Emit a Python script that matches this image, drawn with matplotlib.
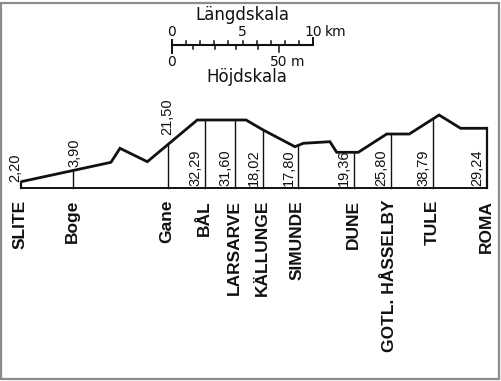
import matplotlib
matplotlib.use("Agg")
import matplotlib.pyplot as plt
import matplotlib.patches as mpatches
import numpy as np

# ---------------- data ----------------
station_names = ["SLITE", "Boge", "Gane", "BÅL", "LARSARVE", "KÄLLUNGE",
                 "SIMUNDE", "DUNE", "GOTL. HÅSSELBY", "TULE", "ROMA"]
station_km = [0.0, 3.71, 10.40, 13.05, 15.18, 17.18, 19.67, 23.62, 26.22, 29.24, 33.07]
station_heights = ["2,20", "3,90", "21,50", "32,29", "31,60", "18,02",
                   "17,80", "19,36", "25,80", "38,79", "29,24"]

profile_km = [0.0, 6.38, 7.02, 8.96, 12.50, 15.96, 17.18, 19.43, 20.02, 21.91,
              22.39, 23.92, 25.94, 27.54, 29.65, 31.18, 33.07]
profile_m = [2.94, 12.0, 18.55, 12.29, 31.78, 31.78, 27.10, 19.30, 20.89, 21.64,
             16.68, 16.68, 25.23, 25.23, 34.11, 27.90, 27.90]

km_ticks = list(range(0, 11))
m_ticks = [0, 10, 20, 30, 40, 50]

# ---------------- layout ----------------
W, H = 502, 381
KM_PX = 14.1     # pixels per km
M_PX = 2.14      # pixels per metre
X0, Y0 = 21, 188  # pixel position of (0 km, 0 m)


def px_x(p):
    return (p - X0) / KM_PX


def px_y(p):
    return (Y0 - p) / M_PX


INK = "#111111"

fig = plt.figure(figsize=(W / 100, H / 100), dpi=100)
fig.patch.set_facecolor("white")
ax = fig.add_axes([0, 0, 1, 1])
ax.set_axis_off()
ax.set_xlim(px_x(0), px_x(W))
ax.set_ylim(px_y(H), px_y(0))

# frame of the scan
fig.add_artist(mpatches.Rectangle((1.0 / W, 2.0 / H), 498.5 / W, 376.5 / H,
                                  transform=fig.transFigure, fill=False,
                                  edgecolor="#8c8c8c", lw=1.6))

# ---------------- profile ----------------
ax.plot(profile_km, profile_m, color=INK, lw=2.0, solid_joinstyle="miter",
        solid_capstyle="butt")
ax.plot([station_km[0], station_km[-1]], [0, 0], color=INK, lw=1.4)
ax.plot([profile_km[0], profile_km[0]], [0, profile_m[0]], color=INK, lw=1.6)
ax.plot([profile_km[-1], profile_km[-1]], [0, profile_m[-1]], color=INK, lw=1.6)

tops = np.interp(station_km, profile_km, profile_m)
for i, (km, top) in enumerate(zip(station_km, tops)):
    if 0 < i < len(station_km) - 1:
        ax.plot([km, km], [0, top], color=INK, lw=1.0)

# height labels
val_font = dict(family="Liberation Sans", fontsize=10.5, color=INK, rotation=90)
above_offsets = {0: (-4.3, 0.0), 1: (0.5, 2.5), 2: (-0.5, 7.0)}
for i, (km, top, lab) in enumerate(zip(station_km, tops, station_heights)):
    if i in above_offsets:
        dx, dy = above_offsets[i]
        ax.annotate(lab, xy=(km, top), xytext=(dx, dy), textcoords="offset points",
                    ha="center", va="bottom", **val_font)
    else:
        ax.annotate(lab, xy=(km, 0), xytext=(-2.0, 1.3), textcoords="offset points",
                    ha="right", va="bottom", **val_font)

# station names
for km, name in zip(station_km, station_names):
    ax.annotate(name, xy=(km, 0), xytext=(-0.7, -8.6), textcoords="offset points",
                ha="center", va="top", rotation=90, family="Liberation Sans",
                fontweight="bold", fontsize=12.5, color=INK)

# ---------------- scale bar ----------------
bx0 = px_x(172)
by = px_y(45)
m_to_km = M_PX / KM_PX
ax.plot([bx0, bx0 + km_ticks[-1]], [by, by], color=INK, lw=1.5)
for k in km_ticks:
    x = bx0 + k
    if k == 0:
        ax.plot([x, x], [px_y(40), px_y(53)], color=INK, lw=1.4)
    elif k == km_ticks[-1]:
        ax.plot([x, x], [by, px_y(38)], color=INK, lw=1.4)
    else:
        ax.plot([x, x], [by, px_y(41)], color=INK, lw=1.1)
for m in m_ticks[1:]:
    x = bx0 + m * m_to_km
    end = px_y(52) if m == m_ticks[-1] else px_y(49)
    ax.plot([x, x], [by, end], color=INK, lw=1.1)

sc_font = dict(family="DejaVu Sans", color=INK)
ax.text(px_x(242), px_y(15), "Längdskala", ha="center", va="center", fontsize=12, **sc_font)
ax.text(px_x(247), px_y(77), "Höjdskala", ha="center", va="center", fontsize=12, **sc_font)
ax.text(bx0, px_y(32), "0", ha="center", va="center", fontsize=10, **sc_font)
ax.text(bx0 + 5, px_y(32), "5", ha="center", va="center", fontsize=10, **sc_font)
ax.text(bx0 + 10, px_y(32), "10", ha="center", va="center", fontsize=10, **sc_font)
ax.text(px_x(325), px_y(32), "km", ha="left", va="center", fontsize=10, **sc_font)
ax.text(bx0, px_y(62), "0", ha="center", va="center", fontsize=10, **sc_font)
ax.text(bx0 + 50 * m_to_km, px_y(62), "50", ha="center", va="center", fontsize=10, **sc_font)
ax.text(px_x(291), px_y(62), "m", ha="left", va="center", fontsize=10, **sc_font)

fig.savefig("out.png", dpi=100, facecolor="white")
